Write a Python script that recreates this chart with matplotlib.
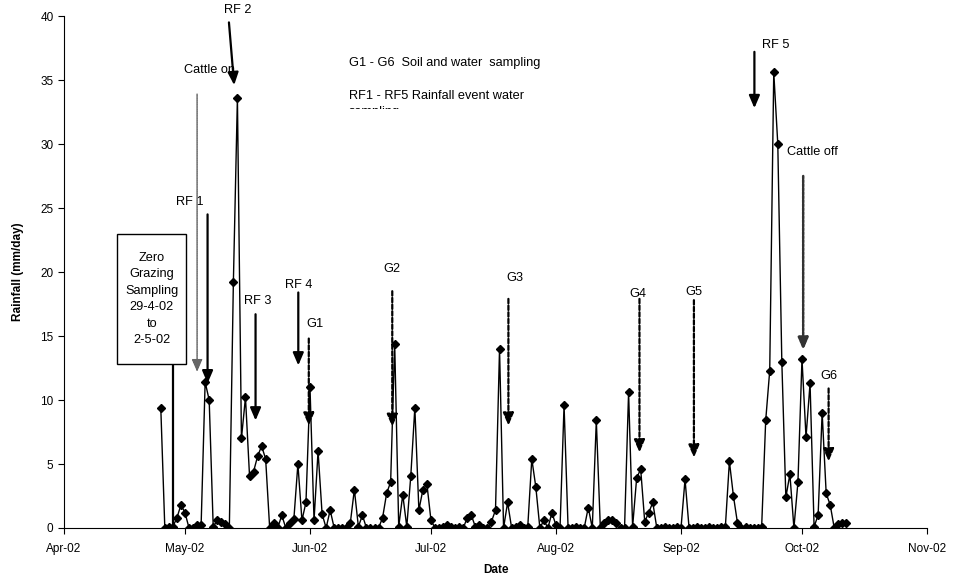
import pandas as pd
import numpy as np
import matplotlib.pyplot as plt
import matplotlib.dates as mdates
from matplotlib.patches import Rectangle

plt.rcParams['font.family'] = ['Liberation Sans', 'DejaVu Sans']

# daily rainfall (mm/day) from 25 April 2002
start_date = '2002-04-25'
rain = [9.4, 0.0, 0.1, 0.1, 0.8, 1.8, 1.2, 0.0, 0.0, 0.2, 0.2,
        11.4, 10.0, 0.1, 0.6, 0.5, 0.3, 0.0, 19.2, 33.6, 7.0, 10.2,
        4.1, 4.4, 5.6, 6.4, 5.4, 0.0, 0.4, 0.0, 1.0, 0.0, 0.4,
        0.7, 5.0, 0.6, 2.0, 11.0, 0.6, 6.0, 1.1, 0.0, 1.4, 0.0,
        0.0, 0.0, 0.0, 0.4, 3.0, 0.1, 1.0, 0.0, 0.0, 0.0, 0.0,
        0.8, 2.7, 3.6, 14.4, 0.1, 2.6, 0.1, 4.1, 9.4, 1.4, 3.0,
        3.4, 0.6, 0.0, 0.0, 0.1, 0.2, 0.1, 0.0, 0.1, 0.0, 0.8,
        1.0, 0.1, 0.2, 0.0, 0.0, 0.5, 1.4, 14.0, 0.0, 2.0, 0.0,
        0.1, 0.2, 0.0, 0.1, 5.4, 3.2, 0.0, 0.6, 0.0, 1.2, 0.2,
        0.0, 9.6, 0.0, 0.0, 0.1, 0.0, 0.0, 1.6, 0.0, 8.4, 0.0,
        0.4, 0.6, 0.6, 0.4, 0.0, 0.0, 10.6, 0.1, 3.9, 4.6, 0.5,
        1.2, 2.0, 0.0, 0.0, 0.1, 0.0, 0.0, 0.1, 0.0, 3.8, 0.0,
        0.0, 0.1, 0.0, 0.0, 0.1, 0.0, 0.0, 0.1, 0.1,
        5.2, 2.5, 0.4,
        0.0, 0.1, 0.0, 0.0, 0.0, 0.1,
        8.4, 12.3, 35.6, 30.0, 13.0, 2.4, 4.2, 0.0, 3.6, 13.2, 7.1,
        11.3, 0.1, 1.0, 9.0, 2.7, 1.8, 0.0, 0.3, 0.4, 0.4]
dates = pd.date_range(start_date, periods=len(rain), freq='D')

# sampling events: label, day-of-season (days after 1 April), arrow top, arrow tip, label x, label y
rf_events = [('RF 1', 35.6, 24.5, 11.3, 31.3, 25.5),
             ('RF 3', 47.5, 16.7, 8.4, 48.1, 17.7),
             ('RF 4', 58.1, 18.4, 12.7, 58.1, 19.0),
             ('RF 5', 171.2, 37.2, 32.8, 176.4, 37.7)]
g_events = [('G1', 60.7, 14.8, 8.0, 62.3, 15.9),
            ('G2', 81.4, 18.5, 7.9, 81.4, 20.2),
            ('G3', 110.2, 17.9, 8.0, 111.7, 19.5),
            ('G4', 142.7, 17.9, 5.9, 142.2, 18.3),
            ('G5', 156.2, 17.8, 5.5, 156.1, 18.4),
            ('G6', 189.6, 10.9, 5.2, 189.6, 11.9)]
cattle_events = [('Cattle on', 33.0, 33.9, 12.2, 36.2, 35.8, 1.0, '#666666'),
                 ('Cattle off', 183.3, 27.5, 13.9, 185.6, 29.4, 1.8, '#333333')]

season_start = mdates.date2num(pd.Timestamp('2002-04-01'))


def day(d):
    return season_start + d


fig = plt.figure(figsize=(9.72, 5.77), dpi=100)
ax = fig.add_axes([64 / 972, 1 - 528 / 577, (927 - 64) / 972, (528 - 16) / 577])

ax.plot(dates, rain, color='black', lw=1, marker='D', ms=4.4, zorder=3)

fs = 9.2
arrow_head = '-|>,head_width=0.32,head_length=0.75'


def arrow(x0, y0, x1, y1, ls, lw, color='black'):
    ax.annotate('', xy=(x1, y1), xytext=(x0, y0),
                arrowprops=dict(arrowstyle=arrow_head, lw=lw, ls=ls, color=color,
                                shrinkA=0, shrinkB=0, mutation_scale=10), zorder=4)


for name, d, top, tip, lx, ly in rf_events:
    arrow(day(d), top, day(d), tip, '-', 1.6)
    ax.text(day(lx), ly, name, ha='center', va='center', fontsize=fs, clip_on=False)

# RF 2 arrow leans slightly
arrow(day(40.9), 39.5, day(42.2), 34.6, '-', 1.6)
ax.text(day(43.2), 40.5, 'RF 2', ha='center', va='center', fontsize=fs, clip_on=False)

for name, d, top, tip, lx, ly in g_events:
    arrow(day(d), top, day(d), tip, (0, (2, 1)), 1.6)
    ax.text(day(lx), ly, name, ha='center', va='center', fontsize=fs)

for name, d, top, tip, lx, ly, lw, col in cattle_events:
    arrow(day(d), top, day(d), tip, (0, (1, 0.6)), lw, col)
    ax.text(day(lx), ly, name, ha='center', va='center', fontsize=fs)

# zero grazing sampling box with its pointer
ax.add_patch(Rectangle((day(13.2), 12.8), 17.1, 10.2, facecolor='white',
                       edgecolor='black', lw=1, zorder=5))
ax.text(day(21.75), 17.9, 'Zero\nGrazing\nSampling\n29-4-02\nto\n2-5-02',
        ha='center', va='center', fontsize=fs, linespacing=1.5, zorder=6)
ax.plot([day(27.0), day(27.0)], [12.8, 0], color='black', lw=1.6, zorder=4)

# legend text block, second line cut off by the box edge
ax.text(day(70.6), 36.3, 'G1 - G6  Soil and water  sampling', fontsize=fs, va='center')
ax.text(day(70.6), 34.25, 'RF1 - RF5 Rainfall event water\nsampling', fontsize=fs,
        va='top', linespacing=1.45)
ax.add_patch(Rectangle((day(68), 29.0), 60, 3.72, facecolor='white', edgecolor='none', zorder=7))

ax.set_xlim(mdates.date2num(pd.Timestamp('2002-04-01')), mdates.date2num(pd.Timestamp('2002-11-01')))
ax.set_ylim(0, 40)
ax.set_yticks(np.arange(0, 41, 5))
ax.xaxis.set_major_locator(mdates.MonthLocator())
ax.xaxis.set_major_formatter(mdates.DateFormatter('%b-%y'))
ax.tick_params(labelsize=8.5, direction='out', length=4, width=0.8)
ax.tick_params(axis='x', pad=7)
ax.spines['top'].set_visible(False)
ax.spines['right'].set_visible(False)

ax.set_xlabel('Date', fontsize=8.5, fontweight='bold', labelpad=6)
ax.set_ylabel('Rainfall (mm/day)', fontsize=8.5, fontweight='bold', labelpad=12)

fig.savefig('out.png', dpi=100)
